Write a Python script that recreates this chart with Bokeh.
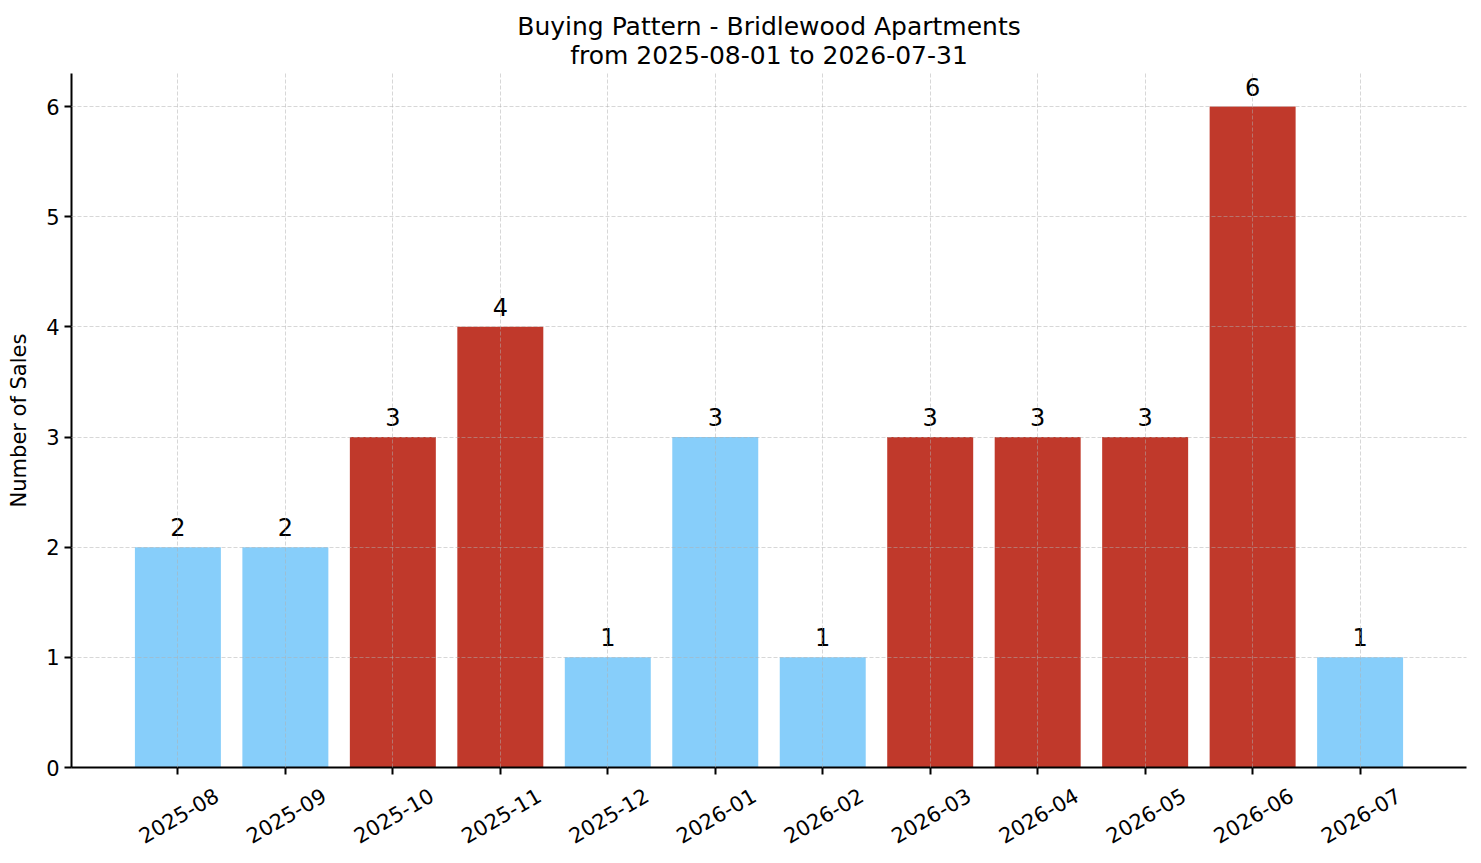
import math
from bokeh.plotting import figure
from bokeh.models import (ColumnDataSource, FixedTicker, SingleIntervalTicker,
                          Range1d, Title, LinearAxis)
from bokeh.transform import factor_cmap
from bokeh.core.properties import value
from bokeh.embed import file_html
from bokeh.resources import INLINE

months = ["2025-08", "2025-09", "2025-10", "2025-11", "2025-12", "2026-01",
          "2026-02", "2026-03", "2026-04", "2026-05", "2026-06", "2026-07"]
sales = [2, 2, 3, 4, 1, 3, 1, 3, 3, 3, 6, 1]
group = ["low", "low", "high", "high", "low", "low",
         "low", "high", "high", "high", "high", "low"]

FONT = "DejaVu Sans"
xpos = list(range(len(months)))

src = ColumnDataSource(dict(x=xpos, sales=sales, group=group,
                            label=[str(s) for s in sales]))

p = figure(width=1481, height=863, title=None,
           x_range=Range1d(-0.99, len(months) - 0.01), y_range=Range1d(0, 6.3),
           output_backend="svg", toolbar_location=None,
           min_border_left=71, min_border_right=15, min_border_top=73, min_border_bottom=96)

p.add_layout(Title(text="from 2025-08-01 to 2026-07-31", align="center",
                   text_font=FONT, text_font_size="25px", text_font_style="normal",
                   text_color="black", standoff=8), "above")
p.add_layout(Title(text="Buying Pattern - Bridlewood Apartments", align="center",
                   text_font=FONT, text_font_size="25px", text_font_style="normal",
                   text_color="black", standoff=-12), "above")

p.vbar(x="x", top="sales", width=0.8, source=src, line_color=None,
       fill_color=factor_cmap("group", ["#87CEFA", "#C0392B"], ["low", "high"]))

# value labels above the bars
p.text(x="x", y="sales", text="label", source=src, text_align="center",
       text_baseline="alphabetic", y_offset=-20, text_font=value(FONT),
       text_font_size="24px", text_color="black")

p.outline_line_color = None
p.xaxis.ticker = FixedTicker(ticks=xpos)
p.xaxis.major_label_overrides = {i: "" for i in xpos}
p.xaxis.major_label_text_font_size = "1px"
p.xaxis.major_label_standoff = 0
p.yaxis.ticker = SingleIntervalTicker(interval=1)
p.yaxis.axis_label = "Number of Sales"

for ax in (p.xaxis, p.yaxis):
    ax.axis_line_color = "black"
    ax.axis_line_width = 2
    ax.major_tick_line_color = "black"
    ax.major_tick_line_width = 2
    ax.major_tick_out = 7
    ax.major_tick_in = 0
    ax.minor_tick_line_color = None
    ax.axis_label_text_font = FONT
    ax.axis_label_text_font_size = "21px"
    ax.axis_label_text_font_style = "normal"
    ax.axis_label_text_color = "black"

p.yaxis.major_label_text_font = FONT
p.yaxis.major_label_text_font_size = "21px"
p.yaxis.major_label_text_color = "black"
p.yaxis.axis_label_standoff = 12

# rotated month labels: bokeh hangs them from their right end, so a label-only
# axis with slightly shifted ticks puts them centred under the real ticks
shift = 0.36
label_ticks = [round(i + shift, 2) for i in xpos]
month_axis = LinearAxis(ticker=FixedTicker(ticks=label_ticks),
                        major_label_overrides=dict(zip(label_ticks, months)),
                        major_label_orientation=math.radians(30),
                        major_label_standoff=13,
                        major_label_text_font=FONT,
                        major_label_text_font_size="21px",
                        major_label_text_color="black",
                        axis_line_color=None, major_tick_line_color=None,
                        minor_tick_line_color=None)
p.add_layout(month_axis, "below")

for g in (p.xgrid, p.ygrid):
    g.grid_line_color = "#b0b0b0"
    g.grid_line_alpha = 0.5
    g.grid_line_width = 1
    g.grid_line_dash = "4 2"
    g.level = "overlay"

open("out.html", "w").write(file_html(p, INLINE))
